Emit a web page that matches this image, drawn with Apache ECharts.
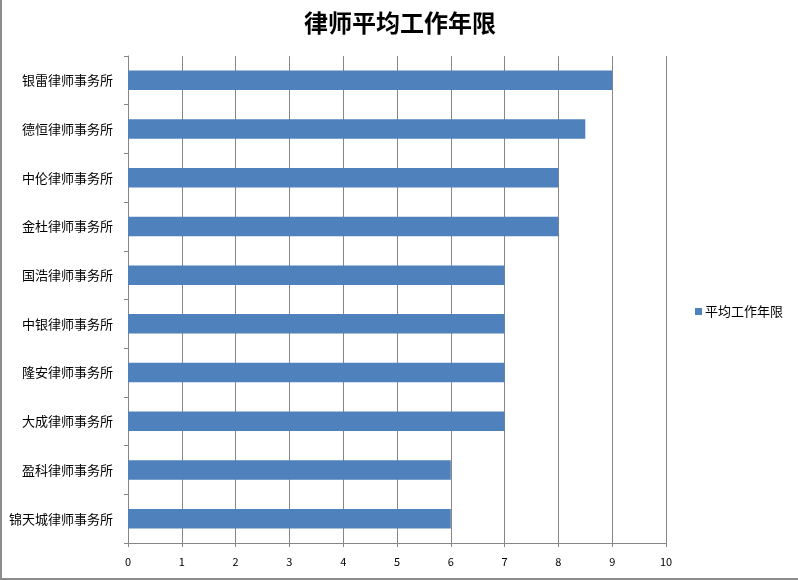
<!DOCTYPE html>
<html>
<head>
<meta charset="utf-8">
<script src="https://cdn.jsdelivr.net/npm/echarts@6/dist/echarts.min.js"></script>
<style>
  html, body { margin: 0; padding: 0; background: #fff; }
  #main { width: 798px; height: 580px; box-sizing: border-box; border-left: 2px solid #8c8c8c; border-bottom: 2px solid #8c8c8c; }
</style>
</head>
<body>
<div id="main"></div>
<script>
    // 数据
    var firms = ['银雷律师事务所', '德恒律师事务所', '中伦律师事务所', '金杜律师事务所', '国浩律师事务所',
                 '中银律师事务所', '隆安律师事务所', '大成律师事务所', '盈科律师事务所', '锦天城律师事务所'];
    var years = [9, 8.5, 8, 8, 7, 7, 7, 7, 6, 6];
    var xTicks = [0, 10, 1];   // min, max, interval

    var myChart = echarts.init(document.getElementById('main'));
    var font = '"Noto Sans CJK SC", "Noto Sans", sans-serif';

    var option = {
        animation: false,
        title: {
            text: '律师平均工作年限',
            left: 'center',
            top: 6,
            textStyle: { fontSize: 24, fontWeight: 'bold', color: '#000', fontFamily: '"Noto Sans CJK SC", serif' }
        },
        legend: {
            data: ['平均工作年限'],
            orient: 'vertical',
            left: 688,
            top: 300,
            itemWidth: 7,
            itemHeight: 7,
            itemGap: 4,
            icon: 'rect',
            textStyle: { fontSize: 13, color: '#000', fontFamily: font, padding: [0, 0, 0, -2] }
        },
        grid: { left: 126, right: 132, top: 56, bottom: 35, containLabel: false },
        xAxis: {
            type: 'value',
            min: xTicks[0], max: xTicks[1], interval: xTicks[2],
            axisLine: { show: true, lineStyle: { color: '#868686' } },
            axisTick: { show: true, length: 4, lineStyle: { color: '#868686' } },
            axisLabel: { color: '#000', fontSize: 11, fontFamily: font, margin: 13 },
            splitLine: { show: true, lineStyle: { color: '#868686' } }
        },
        yAxis: {
            type: 'category',
            data: firms,
            inverse: true,
            axisLine: { show: true, lineStyle: { color: '#868686' } },
            axisTick: { show: true, length: 4, lineStyle: { color: '#868686' } },
            axisLabel: { color: '#000', fontSize: 13, fontFamily: font, margin: 15 },
            splitLine: { show: false }
        },
        series: [{
            name: '平均工作年限',
            type: 'bar',
            data: years,
            barWidth: '40%',
            itemStyle: { color: '#4F81BD' }
        }]
    };

    myChart.setOption(option);
</script>
</body>
</html>
